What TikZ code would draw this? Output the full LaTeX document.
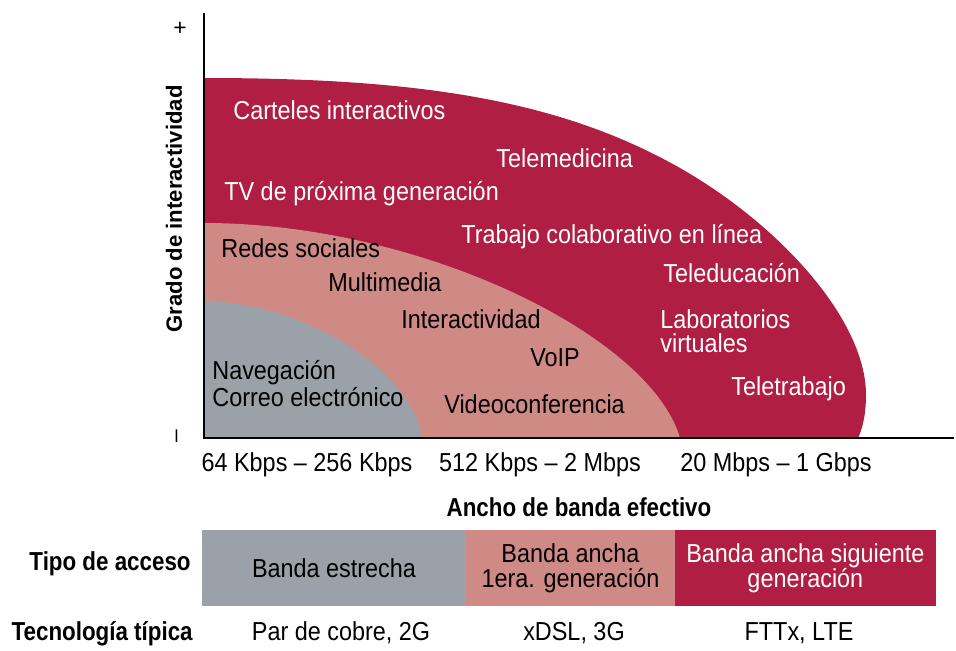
\documentclass[tikz,border=0pt]{standalone}
\usepackage{fontspec}
\setmainfont{Liberation Sans}
\newfontfamily\narrowfont[FakeStretch=0.9]{Liberation Sans}
\newfontfamily\narrowbold[FakeStretch=0.86]{Liberation Sans}
\usetikzlibrary{positioning}
\definecolor{vino}{HTML}{B01E43}
\definecolor{rosa}{HTML}{D08A86}
\definecolor{gris}{HTML}{9BA1A8}
\tikzset{lab/.style = {inner sep = 0, anchor = base west, font = \narrowfont\fontsize{14.8}{16}\selectfont}}
\tikzset{wlab/.style = {lab, text = white}}
\tikzset{ttl/.style = {inner sep = 0, anchor = base, font = \narrowbold\bfseries\fontsize{14.8}{16}\selectfont}}
\tikzset{blk/.style = {inner sep = 0, outer sep = 0, minimum height = 1.52cm, align = center, font = \narrowfont\fontsize{14.8}{14}\selectfont}}

\begin{document}
\begin{tikzpicture}[x = 0.02cm, y = -0.02cm]
      \useasboundingbox (0, 0) rectangle (956, 650);
      \coordinate (ytop) at (204, 13);
      \coordinate (orig) at (204, 438);
      \coordinate (xend) at (954, 438);
      % zonas
      \fill [vino] (204, 78) .. controls (420, 78) and (560, 100) .. (680, 168)
        .. controls (780, 225) and (866, 320) .. (866, 395)
        .. controls (866, 415) and (862, 430) .. (858, 438) -- (orig) -- cycle;
      \fill [rosa] (204, 223) .. controls (420, 223) and (650, 335) .. (680, 438) -- (orig) -- cycle;
      \fill [gris] (204, 301) .. controls (320, 305) and (415, 380) .. (422, 438) -- (orig) -- cycle;
      \draw [line width = 1.5pt] (ytop) -- (orig) -- (xend);
      \node [inner sep = 0, font = \fontsize{13}{14}\selectfont] (mas) at (180, 29) {+};
      \node [inner sep = 0, rotate = 90, font = \fontsize{13}{14}\selectfont] (menos) at (179, 436) {–};
      \node [inner sep = 0, rotate = 90, font = \bfseries\fontsize{12.6}{14}\selectfont] (grado) at (174, 209) {Grado de interactividad};
      % servicios
      \node [wlab] (carteles) at (233, 119) {Carteles interactivos};
      \node [wlab] (telemed) at (496, 167) {Telemedicina};
      \node [wlab] (tv) at (224, 200) {TV de próxima generación};
      \node [wlab] (trabajo) at (461, 243) {Trabajo colaborativo en línea};
      \node [wlab] (teleduc) at (663, 282) {Teleducación};
      \node [wlab] (labs) at (660, 328) {Laboratorios};
      \node [wlab] (virt) at (660, 352) {virtuales};
      \node [wlab] (teletrab) at (731, 395) {Teletrabajo};
      \node [lab] (redes) at (221, 257) {Redes sociales};
      \node [lab] (multi) at (328, 291) {Multimedia};
      \node [lab] (inter) at (401, 328) {Interactividad};
      \node [lab] (voip) at (530, 366) {VoIP};
      \node [lab] (naveg) at (212, 379) {Navegación};
      \node [lab] (correo) at (212, 406) {Correo electrónico};
      \node [lab] (video) at (444, 413) {Videoconferencia};
      % ancho de banda
      \node [lab, anchor = base] (kbps) at (307, 471) {64 Kbps – 256 Kbps};
      \node [lab, anchor = base] (mbps) at (540, 471) {512 Kbps – 2 Mbps};
      \node [lab, anchor = base] (gbps) at (776, 471) {20 Mbps – 1 Gbps};
      \node [ttl] (ancho) at (579, 516) {Ancho de banda efectivo};
      % tipo de acceso
      \node [blk, fill = gris, minimum width = 5.28cm, anchor = north west] (estrecha) at (202, 530) {Banda estrecha};
      \node [blk, fill = rosa, minimum width = 4.18cm, right = 0pt of estrecha] (ancha) {Banda ancha\\1era. generación};
      \node [blk, fill = vino, text = white, minimum width = 5.22cm, right = 0pt of ancha] (siguiente) {Banda ancha siguiente\\generación};
      \node [ttl, anchor = base east] (tipo) at (191, 570) {Tipo de acceso};
      \node [ttl, anchor = base east] (tecno) at (193, 640) {Tecnología típica};
      \node [lab, anchor = base] (cobre) at (341, 640) {Par de cobre, 2G};
      \node [lab, anchor = base] (xdsl) at (574, 640) {xDSL, 3G};
      \node [lab, anchor = base] (fttx) at (799, 640) {FTTx, LTE};
\end{tikzpicture}
\end{document}
